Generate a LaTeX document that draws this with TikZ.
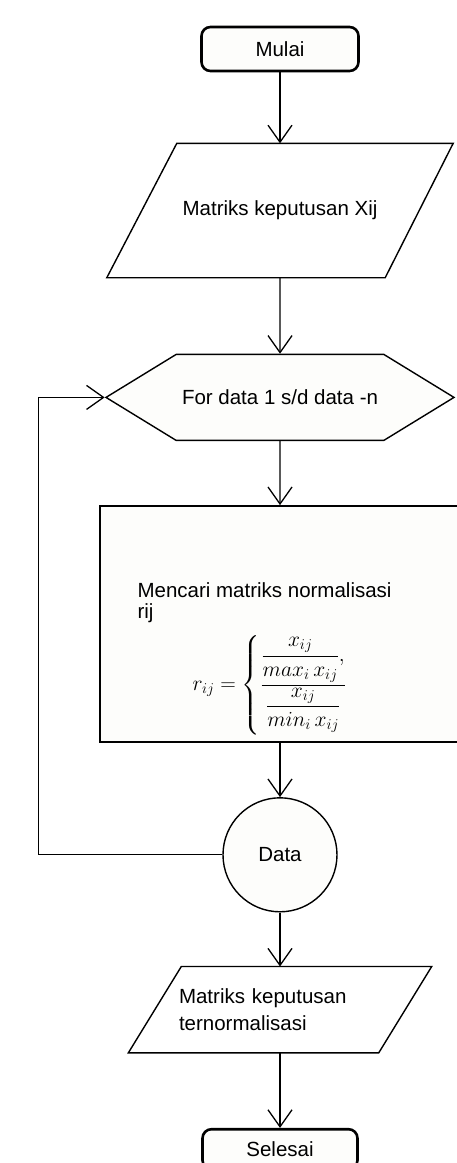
\RequirePackage{fix-cm}
\documentclass[tikz,border=0pt]{standalone}
\usepackage{amsmath}
\usepackage{fontspec}
\setmainfont{Liberation Sans}
\usetikzlibrary{shapes.symbols, positioning, arrows.meta}
\definecolor{boxfill}{HTML}{FDFDFB}

\tikzset{
  terminal/.style={draw, rounded corners=9pt, line width=2.6pt, fill=boxfill,
    minimum width=157pt, minimum height=44pt},
  iobox/.style={rectangle, inner sep=0pt},
  ioline/.style={line width=1.4pt, line join=miter},
  loopbox/.style={draw, signal, signal to=west and east, signal pointer angle=63,
    line width=1.4pt, fill=boxfill, minimum width=348pt, minimum height=86pt},
  process/.style={draw, rectangle, line width=2pt, fill=boxfill,
    minimum width=360pt, minimum height=236pt},
  joint/.style={draw, circle, line width=1.4pt, fill=boxfill, minimum size=114pt},
  flow/.style={-{Straight Barb[length=17pt, width=24pt]}, line width=1.3pt}
}

\begin{document}
\begin{tikzpicture}[x=1pt, y=1pt, font=\fontsize{20.5}{24}\selectfont, node distance=60pt]
  \path[use as bounding box, clip] (0,0) rectangle (457,-1163);

  \node[terminal] (start) at (280,-49) {Mulai};
  \node[iobox, minimum width=346pt, minimum height=134pt] (input) [below=71pt of start] {Matriks keputusan Xij};
  \node[loopbox] (loop) [below=76pt of input] {For data 1 s/d data -n};
  \node[process] (proc) [below=64pt of loop] {};
  \node[joint] (data) [below=54pt of proc] {Data};
  \node[iobox, minimum width=303pt, minimum height=86pt, text width=202pt, align=left,
        font=\fontsize{20.5}{27}\selectfont] (output) [below=54pt of data]
        {Matriks keputusan\\ternormalisasi};
  \node[terminal, minimum width=155pt, minimum height=40pt] (stop) [below=75pt of output] {Selesai};

  % jajaran genjang input / output
  \draw[ioline] ([xshift=70pt]input.north west) -- (input.north east)
    -- ([xshift=-68pt]input.south east) -- (input.south west) -- cycle;
  \draw[ioline] ([xshift=53pt]output.north west) -- (output.north east)
    -- ([xshift=-53pt]output.south east) -- (output.south west) -- cycle;

  % isi kotak proses
  \node[anchor=base west, align=left, font=\fontsize{20.5}{21}\selectfont] (desc)
        at ([xshift=35pt, yshift=-113pt]proc.north west) {Mencari matriks normalisasi\\rij};
  \node[anchor=west, font=\fontsize{21.5}{24}\selectfont] (rform)
        at ([xshift=90pt, yshift=-180pt]proc.north west)
        {$r_{ij} = \left\{ \dfrac{\dfrac{x_{ij}}{max_i\, x_{ij}},}{\dfrac{x_{ij}}{min_i\, x_{ij}}} \right.$};

  \draw[flow] (start) -- (input);
  \draw[flow] (input) -- (loop);
  \draw[flow] (loop) -- (proc);
  \draw[flow] (proc) -- (data);
  \draw[flow] (data) -- (output);
  \draw[flow] (output) -- (stop);
  \draw[flow] (data.west) -- ([xshift=-184pt]data.west) |- (loop.west);
\end{tikzpicture}
\end{document}
